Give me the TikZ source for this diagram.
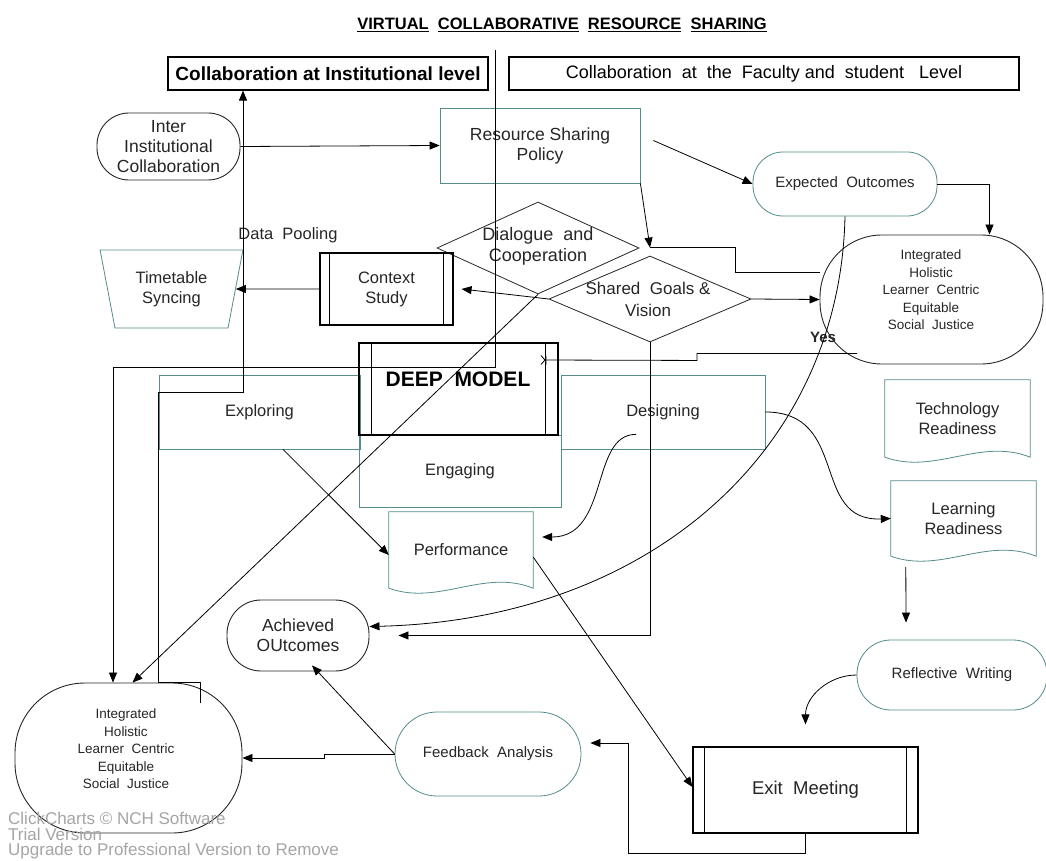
\documentclass[tikz,border=0pt]{standalone}
\usepackage{fontspec}
\setmainfont{Liberation Sans}
\usetikzlibrary{arrows.meta}
\usetikzlibrary{calc}
\usetikzlibrary{shapes.geometric}

\definecolor{shapeteal}{RGB}{86,140,140}
\definecolor{trialgray}{RGB}{165,165,165}

% wavy bottom "document" outline round a node
\newcommand{\wavydoc}[1]{%
  \draw[tealedge] (#1.south west) -- (#1.north west) -- (#1.north east) -- (#1.south east)
    .. controls +(-50,-20) and +(50,18) .. (#1.south west);}
% inner bars of a process box
\newcommand{\procbars}[2]{%
  \draw[blkedge] ([xshift=#2]#1.north west) -- ([xshift=#2]#1.south west);
  \draw[blkedge] ([xshift=-#2]#1.north east) -- ([xshift=-#2]#1.south east);}

\begin{document}
\begin{tikzpicture}[x=1pt, y=-1pt,
    every node/.style={inner sep=0pt, align=center, text=black!85},
    txt/.style={font=\fontsize{16.5}{20}\selectfont},
    smalltxt/.style={font=\fontsize{15}{17}\selectfont},
    listtxt/.style={font=\fontsize{13.5}{17.5}\selectfont},
    blkedge/.style={draw=black, line width=1.1pt},
    tealedge/.style={draw=shapeteal, line width=0.8pt},
    roundedge/.style={draw=black!85, line width=0.9pt, rounded corners=#1},
    tealround/.style={draw=shapeteal, line width=0.8pt, rounded corners=#1},
    conn/.style={draw=black, line width=0.8pt},
    arr/.style={conn, -{Triangle[length=10pt,width=8pt]}}]

  \useasboundingbox[fill=white] (0,0) rectangle (1046,861);

  % heading and level boxes
  \node[font=\bfseries\fontsize{16.5}{20}\selectfont, text=black] (title) at (562,25)
    {\underline{VIRTUAL}\ \ \underline{COLLABORATIVE}\ \ \underline{RESOURCE}\ \ \underline{SHARING}};
  \node[blkedge, minimum width=320pt, minimum height=33pt, font=\bfseries\fontsize{19}{22}\selectfont, text=black] (inst) at (328,73.5)
    {Collaboration\ at\ Institutional\ level};
  \node[blkedge, minimum width=510pt, minimum height=33pt, font=\fontsize{18}{22}\selectfont, text=black] (fac) at (764,73.5)
    {Collaboration\ \ at\ \ the\ \ Faculty and\ \ student\ \ \ Level};

  % upper flow
  \node[roundedge=32pt, minimum width=143pt, minimum height=67pt, font=\fontsize{17.5}{20}\selectfont] (iic) at (168.5,146.5)
    {Inter\\Institutional\\Collaboration};
  \node[tealedge, minimum width=200pt, minimum height=75pt, font=\fontsize{17.5}{20}\selectfont] (rsp) at (540,145.5)
    {Resource Sharing\\Policy};
  \node[tealround=30pt, minimum width=184pt, minimum height=64pt, smalltxt] (expo) at (845,184)
    {Expected\ \ Outcomes};
  \node[roundedge=62pt, minimum width=223pt, minimum height=129pt] (intr) at (931.5,299.5) {};
  \node[listtxt] (intrtxt) at (931,290)
    {Integrated\\Holistic\\Learner\ \ Centric\\Equitable\\Social\ \ Justice};

  \node[diamond, draw=black!85, line width=0.8pt, minimum width=202pt, minimum height=92pt] (dlg) at (538,248) {};
  \node[font=\fontsize{18}{21}\selectfont] (dlgtxt) at (538,246) {Dialogue\ \ and\\Cooperation};
  \node[diamond, draw=black!85, line width=0.8pt, minimum width=202pt, minimum height=86pt] (sg) at (650,299) {};
  \node[font=\fontsize{17}{22}\selectfont] (sgtxt) at (648,299) {Shared\ \ Goals \&\\Vision};

  \node[blkedge, minimum width=133pt, minimum height=72pt, txt] (ctx) at (386.5,289) {Context\\Study};
  \procbars{ctx}{10pt}
  \node[trapezium, shape border rotate=180, trapezium stretches=true, trapezium left angle=75,
    trapezium right angle=75, tealedge, minimum width=143pt, minimum height=78pt, txt] (ttbl) at (171.5,289)
    {Timetable\\Syncing};
  \node[txt] (pool) at (288,235) {Data\ \ Pooling};

  % deep model block
  \node[tealedge, minimum width=201pt, minimum height=74pt, txt] (explr) at (259.5,412) {Exploring};
  \node[tealedge, minimum width=204pt, minimum height=74pt, txt] (desg) at (663,412) {Designing};
  \node[tealedge, minimum width=202pt, minimum height=72pt, txt] (engg) at (460,471) {Engaging};
  \node[blkedge, minimum width=199pt, minimum height=92pt] (deep) at (458.5,389) {};
  \procbars{deep}{13pt}
  \node[font=\bfseries\fontsize{21}{24}\selectfont, text=black] (deeptxt) at (458,379) {DEEP\ \ MODEL};

  \node[minimum width=144pt, minimum height=76pt, txt] (perf) at (461,550) {Performance};
  \wavydoc{perf}
  \node[minimum width=145pt, minimum height=77pt, txt] (tech) at (957.5,418.5) {Technology\\Readiness};
  \wavydoc{tech}
  \node[minimum width=145pt, minimum height=75pt, txt] (lrd) at (963.5,518.5) {Learning\\Readiness};
  \wavydoc{lrd}

  % lower flow
  \node[roundedge=34pt, minimum width=142pt, minimum height=71pt, font=\fontsize{17.5}{20}\selectfont] (achv) at (298,635.5) {Achieved\\OUtcomes};
  \node[tealround=34pt, minimum width=190pt, minimum height=70pt, smalltxt] (refl) at (952,675) {Reflective\ \ Writing};
  \node[tealround=42pt, minimum width=186pt, minimum height=84pt, smalltxt] (fba) at (488,754) {Feedback\ \ Analysis};
  \node[blkedge, minimum width=225pt, minimum height=86pt, font=\fontsize{18.5}{22}\selectfont] (exitm) at (805.5,790) {Exit\ \ Meeting};
  \procbars{exitm}{12pt}
  \node[roundedge=70pt, minimum width=227pt, minimum height=150pt] (intl) at (128.5,758) {};
  \node[listtxt] (intltxt) at (126,749)
    {Integrated\\Holistic\\Learner\ \ Centric\\Equitable\\Social\ \ Justice};

  \node[font=\bfseries\fontsize{15}{18}\selectfont] (yeslbl) at (823,337) {Yes};

  % connectors
  \draw[arr] (iic.east) -- (rsp.west);
  \draw[arr] ([xshift=13pt,yshift=5pt]rsp.east) -- (expo.west);
  \draw[arr] (expo.east) -| ([xshift=58pt]intr.north);
  \draw[arr] (expo.south) .. controls (840,450) and (650,620) .. ([yshift=9pt]achv.east);
  \draw[arr] (sg.south) |- ([xshift=29pt]achv.east);
  \draw[arr] (rsp.south east) -- ([yshift=8pt]sg.north);
  \draw[conn] ([yshift=27.5pt]intr.west) -- ++(-84,0) |- ([yshift=8pt]sg.north);
  \draw[arr] (sg.west) -- ([xshift=8pt]ctx.east);
  \draw[arr] (ctx.west) -- (ttbl.east);
  \coordinate (splittop) at (495,50);
  \draw[arr] (splittop) -- ++(0,317) -| ([xshift=-15.5pt]intl.north);
  \draw[arr] ([xshift=71.5pt,yshift=-20pt]intl.north) -- ++(0,-20) -- ++(-42,0) -- ++(0,-290) -- ++(85,0)
    -- ([xshift=-85pt]inst.south);
  \draw[arr] (dlg.south) -- ([xshift=4pt]intl.north);
  \draw[arr] (sg.east) -- (intr.west);
  \draw[conn, -{Bar[width=9pt] Straight Barb[reversed,length=4pt,width=9pt]}]
    ([xshift=-74.5pt,yshift=11pt]intr.south) -- ++(-160,0) -- ++(0,7) -- ([xshift=-18pt,yshift=29pt]deep.east);
  \draw[arr] ([xshift=23.5pt]explr.south) -- ([yshift=-5pt]perf.west);
  \draw[arr] ([xshift=-27pt,yshift=15pt]desg.south) .. controls (590,434) and (610,537) .. ([xshift=9pt,yshift=13pt]perf.east);
  \draw[arr] ([yshift=-7pt]perf.east) -- ([yshift=3pt]exitm.west);
  \draw[arr] (desg.east) .. controls (850,412) and (810,522) .. (lrd.west);
  \draw[arr] ([xshift=15pt,yshift=-11pt]lrd.south west) -- ([xshift=-46pt,yshift=17pt]refl.north);
  \draw[arr] (refl.west) to[out=180,in=90] ([yshift=22pt]exitm.north);
  \draw[arr] (exitm.south) -- ++(0,20) -- ++(-177.5,0) |- ([xshift=9pt,yshift=11pt]fba.east);
  \draw[arr] (fba.west) -- ++(-70,0) |- (intl.east);
  \draw[arr] (fba.west) -- ([xshift=14pt,yshift=6pt]achv.south);

  % trial stamp
  \node[anchor=north west, align=left, text=trialgray, font=\fontsize{17}{15.5}\selectfont] (trial) at (8,812)
    {ClickCharts \textcopyright{} NCH Software\\Trial Version\\Upgrade to Professional Version to Remove};
\end{tikzpicture}
\end{document}
